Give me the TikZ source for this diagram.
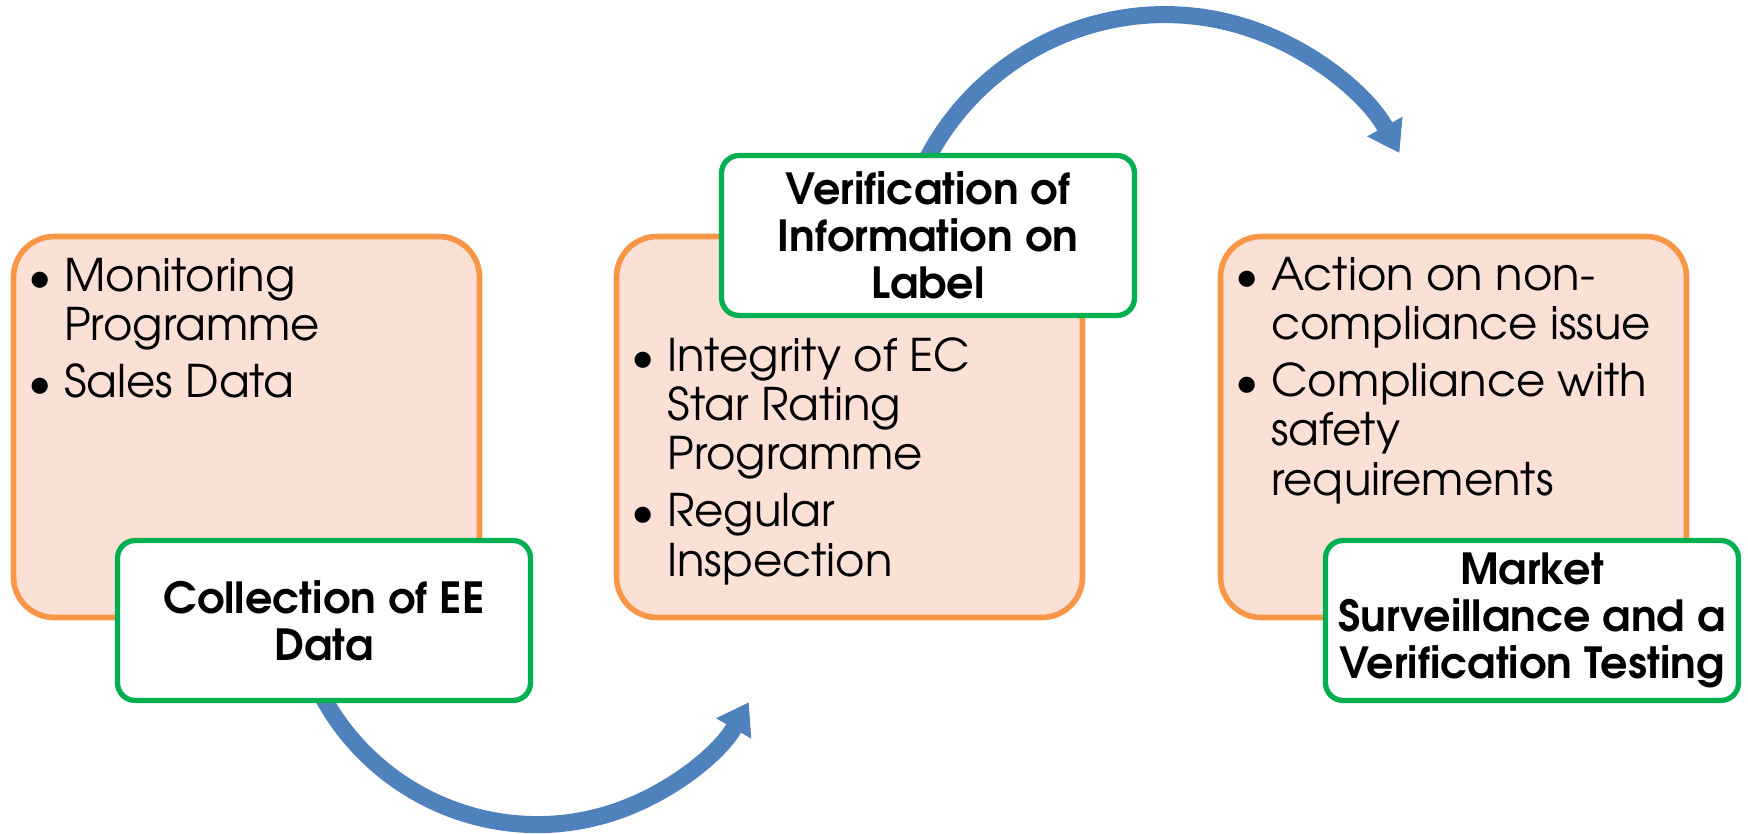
\documentclass[tikz,border=0pt]{standalone}
\usepackage{fontspec}
\setmainfont{texgyreadventor}[Extension=.otf, UprightFont=*-regular, BoldFont=*-bold]
\usetikzlibrary{arrows.meta,positioning}

\definecolor{boxorange}{HTML}{F79646}
\definecolor{boxfill}{HTML}{FBE0D6}
\definecolor{boxgreen}{HTML}{00B050}
\definecolor{arrowblue}{HTML}{4F81BD}

\newcommand{\bul}{\makebox[20.5pt][l]{\textbullet}}
\newcommand{\bulskip}{\hspace*{20.5pt}}

\begin{document}
\begin{tikzpicture}[x=0.02cm, y=-0.02cm,
	stagebox/.style={draw=boxorange, fill=boxfill, line width=3.2pt, rounded corners=23pt,
		minimum width=9.32cm, minimum height=7.62cm},
	titlebox/.style={draw=boxgreen, fill=white, line width=3pt, rounded corners=10pt,
		minimum width=8.26cm, minimum height=3.2cm, inner sep=0pt, align=center,
		font=\fontsize{24.4}{26.7}\selectfont\bfseries},
	itemtext/.style={anchor=base west, align=left, inner sep=0pt,
		font=\fontsize{25.6}{27.9}\selectfont},
	flow/.style={arrowblue, line width=9.7pt,
		-{Triangle[width=23pt, length=17pt, line width=0.5pt]}}
	]
	
	\useasboundingbox (0,0) rectangle (1748,834);
	
	% Stage boxes
	\foreach \i/\x in {1/246.5, 2/849.5, 3/1453.5}{
		\node[stagebox] (o\i) at (\x,427) {};
	}
	
	% Bullet texts (anchored on the baseline of the last line)
	\node[itemtext] (t1) at (28,398) {\bul Monitoring\\ \bulskip Programme\\[5pt] \bul Sales Data};
	\node[itemtext] (t2) at (631,576) {\bul Integrity of EC\\ \bulskip Star Rating\\ \bulskip Programme\\[5pt] \bul Regular\\ \bulskip Inspection};
	\node[itemtext] (t3) at (1235,495) {\bul Action on non-\\ \bulskip compliance issue\\[5pt] \bul Compliance with\\ \bulskip safety\\ \bulskip requirements};
	
	% Curved arrows (tails hidden under the title boxes)
	\coordinate (a1) at (308,664);
	\coordinate (a2) at (913,191);
	\draw[flow] (a1) arc[start angle=160, end angle=30, radius=244];
	\draw[flow] (a2) arc[start angle=200, end angle=331, radius=268];
	
	% Title boxes
	\node[titlebox] (g1) at (324,620.5) {Collection of EE\\Data};
	\node[titlebox] (g2) at (928,235.5) {Verification of\\Information on\\Label};
	\node[titlebox] (g3) at (1532,620.5) {Market\\Surveillance and a\\Verification Testing};
	
\end{tikzpicture}
\end{document}
